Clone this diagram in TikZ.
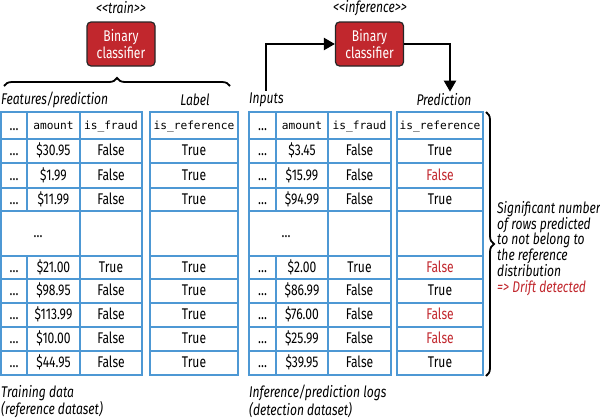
\documentclass[tikz,border=0pt]{standalone}
\usepackage{fontspec}
\setmainfont[FakeStretch=0.78]{Fira Sans}
\setmonofont{DejaVu Sans Mono}
\usetikzlibrary{decorations.pathreplacing, positioning, arrows.meta}

\begin{document}
\begin{tikzpicture}[x=1pt, y=-1pt,
        cell/.style={draw=myblue, line width=1.7pt},
        txt/.style={inner sep=0pt, text height=11pt, text depth=2pt, font=\fontsize{15.5}{17}\selectfont},
        code/.style={inner sep=0pt, text height=10pt, text depth=2pt, font=\fontsize{11.2}{13}\ttfamily},
        lbl/.style={inner sep=2pt, font=\fontsize{15.5}{15.8}\selectfont\itshape},
        clf/.style={draw=black!85, line width=1.2pt, fill=myred, rounded corners=4pt, text=white,
            minimum width=68pt, minimum height=44pt, align=center, font=\fontsize{15.5}{15}\selectfont},
        flow/.style={-{Triangle[length=11pt,width=12pt]}, line width=2.2pt},
        brc/.style={decorate, decoration={brace, amplitude=8pt}, line width=1.8pt}]
        % Colours
        \definecolor{myblue}{RGB}{77, 152, 212}
        \definecolor{myred}{RGB}{193, 39, 45}
        \useasboundingbox (0,0) rectangle (600,418);

        % 1. Table grids (training, inference)
        \foreach \xa/\xb/\xc/\xd/\xe/\xf in {1/27/80/142/150/238, 249/276/328/391/397/483} {
            \foreach \ya/\yb in {112/139, 139/163, 163/188, 188/211, 256/279, 279/303, 303/327, 327/351, 351/375} {
                \draw[cell] (\xa,\ya) rectangle (\xb,\yb);
                \draw[cell] (\xb,\ya) rectangle (\xc,\yb);
                \draw[cell] (\xc,\ya) rectangle (\xd,\yb);
                \draw[cell] (\xe,\ya) rectangle (\xf,\yb);
            }
            % ellipsis row
            \draw[cell] (\xa,211) rectangle (\xc,256);
            \draw[cell] (\xc,211) rectangle (\xd,256);
            \draw[cell] (\xe,211) rectangle (\xf,256);
        }

        % 2. Headers
        \node[txt] (tr_h_dots) at (14,125.5) {\ldots};
        \node[code] (tr_h_amt) at (53.5,125.5) {amount};
        \node[code] (tr_h_fraud) at (111,125.5) {is\_fraud};
        \node[code] (tr_h_lab) at (194,125.5) {is\_reference};
        \node[txt] (inf_h_dots) at (262.5,125.5) {\ldots};
        \node[code] (inf_h_amt) at (302,125.5) {amount};
        \node[code] (inf_h_fraud) at (359.5,125.5) {is\_fraud};
        \node[code] (inf_h_pred) at (440,125.5) {is\_reference};

        % 3. Training rows
        \foreach \yc/\amt/\fr [count=\i] in {151/\$30.95/False, 175.5/\$1.99/False, 199.5/\$11.99/False,
                267.5/\$21.00/True, 291/\$98.95/False, 315/\$113.99/False, 339/\$10.00/False, 363/\$44.95/False} {
            \node[txt] (tr_dots_\i) at (14,\yc) {\ldots};
            \node[txt] (tr_amt_\i) at (53.5,\yc) {\amt};
            \node[txt] (tr_fraud_\i) at (111,\yc) {\fr};
            \node[txt] (tr_lab_\i) at (194,\yc) {True};
        }
        \node[txt] (tr_gap) at (38,233) {\ldots};

        % 4. Inference rows (red = predicted not reference)
        \foreach \yc/\amt/\fr/\pr/\col [count=\i] in {151/\$3.45/False/True/black, 175.5/\$15.99/False/False/myred,
                199.5/\$94.99/False/True/black, 267.5/\$2.00/True/False/myred, 291/\$86.99/False/True/black,
                315/\$76.00/False/False/myred, 339/\$25.99/False/False/myred, 363/\$39.95/False/True/black} {
            \node[txt] (inf_dots_\i) at (262.5,\yc) {\ldots};
            \node[txt] (inf_amt_\i) at (302,\yc) {\amt};
            \node[txt] (inf_fraud_\i) at (359.5,\yc) {\fr};
            \node[txt, text=\col] (inf_pred_\i) at (440,\yc) {\pr};
        }
        \node[txt] (inf_gap) at (286,233) {\ldots};

        % 5. Column labels
        \node[lbl, anchor=west] (lbl_feat) at (-1,100) {Features/prediction};
        \node[lbl] (lbl_label) at (195,100) {Label};
        \node[lbl, anchor=west] (lbl_inputs) at (247,100) {Inputs};
        \node[lbl] (lbl_pred) at (444,100) {Prediction};

        % 6. Classifiers
        \node[lbl] (lbl_train) at (121,8) {<{}<train>{}>};
        \node[clf] (box_train) at (121,44) {Binary\\classifier};
        \node[lbl] (lbl_inf) at (370,8) {<{}<inference>{}>};
        \node[clf] (box_inf) at (369.5,44) {Binary\\classifier};

        % arrows
        \draw[flow] (lbl_inputs.north) |- (box_inf.west);
        \draw[flow] (box_inf.east) -| ([xshift=6pt]lbl_pred.north);

        % 7. Braces
        \coordinate (br_a) at (4,86);
        \coordinate (br_b) at (230,86);
        \draw[brc] (br_a) -- (br_b);
        \coordinate (br_c) at (486,112);
        \coordinate (br_d) at (486,376);
        \draw[brc] (br_c) -- (br_d);

        % 8. Notes
        \node[lbl, anchor=north west, align=left] (lbl_drift) at (495,199) {Significant number\\of rows predicted\\to not belong to\\the reference\\distribution\\{\color{myred}=> Drift detected}};
        \node[lbl, anchor=north west, align=left] (lbl_train_data) at (-1,383) {Training data\\(reference dataset)};
        \node[lbl, anchor=north west, align=left] (lbl_inf_data) at (247,383) {Inference/prediction logs\\(detection dataset)};

    \end{tikzpicture}
\end{document}
